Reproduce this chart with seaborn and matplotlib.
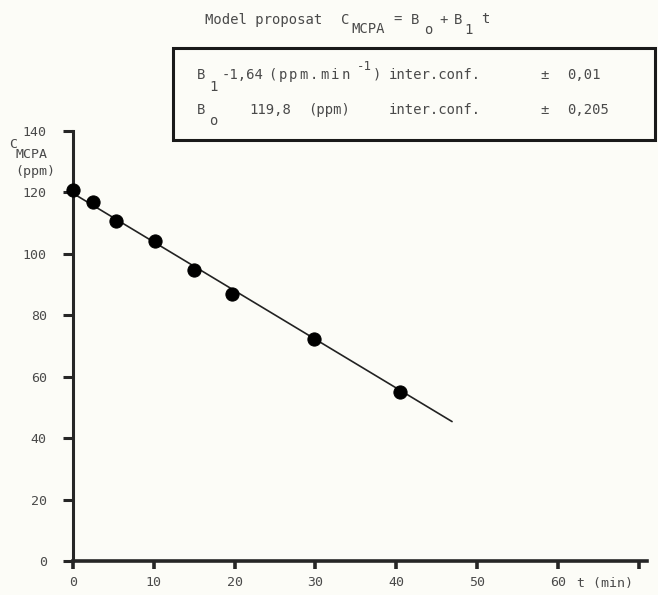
import matplotlib
matplotlib.use("Agg")
import matplotlib.pyplot as plt
import seaborn as sns
import pandas as pd

# measured points (t in min, concentration in ppm)
t_min = [0, 2.5, 5.3, 10.2, 15.0, 19.7, 29.8, 40.5]
c_mcpa = [120.8, 116.9, 110.7, 104.3, 94.8, 86.9, 72.2, 55.1]

# fitted line end points as drawn
fit_t = [0, 46.9]
fit_c = [119.7, 45.4]

x_ticks = [0, 10, 20, 30, 40, 50, 60, 70]
x_labels = ["0", "10", "20", "30", "40", "50", "60", ""]
y_ticks = [0, 20, 40, 60, 80, 100, 120, 140]

sns.set_style("ticks")
plt.rcParams["font.family"] = ["DejaVu Sans Mono"]

TXT = "#4a4a4a"
BG = "#fcfcf7"
W, H = 658, 595

df = pd.DataFrame({"t": t_min, "c": c_mcpa})
fit = pd.DataFrame({"t": fit_t, "c": fit_c})

fig = plt.figure(figsize=(6.58, 5.95), dpi=100, facecolor=BG)
ax = fig.add_axes([0.111, 0.0571, 0.872, 0.7227])
ax.set_facecolor(BG)

sns.lineplot(data=fit, x="t", y="c", ax=ax, color="#222222", linewidth=1.2)
sns.scatterplot(data=df, x="t", y="c", ax=ax, color="black", s=90,
                edgecolor="black", zorder=3, clip_on=False)

ax.set_xlim(0, 71)
ax.set_ylim(0, 140)
ax.set_xticks(x_ticks)
ax.set_xticklabels(x_labels)
ax.set_yticks(y_ticks)
ax.set_xlabel("")
ax.set_ylabel("")

for side in ["top", "right"]:
    ax.spines[side].set_visible(False)
ax.spines["left"].set_linewidth(2.2)
ax.spines["bottom"].set_linewidth(2.6)
ax.tick_params(axis="y", length=7, width=2.2, pad=12, labelsize=9.5,
               labelcolor=TXT)
ax.tick_params(axis="x", length=6, width=2.6, pad=5, labelsize=9.5,
               labelcolor=TXT)


def put(x, y, s, size=10):
    # x, y in pixels from the top-left corner
    fig.text(x / W, 1 - y / H, s, ha="left", va="center",
             fontsize=size, color=TXT)


put(577, 583, "t (min)", 9.5)

# y axis title
put(9, 144, "C", 9.5)
put(15, 154, "MCPA", 9.5)
put(15, 171, "(ppm)", 9.5)

# model title
put(205, 20, "Model proposat")
put(341, 20, "C")
put(351, 29, "MCPA")
put(393, 20, "=")
put(411, 20, "B")
put(424, 30, "o")
put(439, 20, "+")
put(454, 20, "B")
put(464, 30, "1")
put(481, 19, "t")

# parameter box
box = plt.Rectangle((173 / W, 1 - 140 / H), 482 / W, 92 / H,
                    transform=fig.transFigure, fill=False,
                    edgecolor="#1a1a1a", linewidth=2.2)
fig.add_artist(box)

r1, r2 = 75, 110
put(197, r1, "B")
put(209, r1 + 12, "1")
put(222, r1, "-1,64")
for i, ch in enumerate("(ppm.min"):
    put(268 + i * 10.5, r1, ch)
put(357, r1 - 8, "-1", 9)
put(373, r1, ")")
put(389, r1, "inter.conf.")
put(540, r1, "±")
put(567, r1, "0,01")

put(197, r2, "B")
put(209, r2 + 11, "o")
put(249, r2, "119,8")
put(308, r2, "(ppm)")
put(389, r2, "inter.conf.")
put(540, r2, "±")
put(567, r2, "0,205")

fig.savefig("out.png", dpi=100, facecolor=BG)
